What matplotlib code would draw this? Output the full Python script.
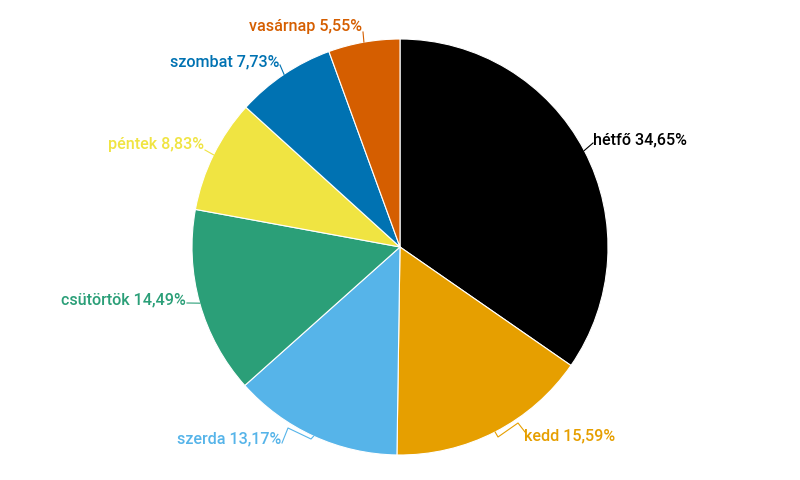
import matplotlib
matplotlib.use("Agg")
import matplotlib.pyplot as plt
import numpy as np

DAYS = ["hétfő", "kedd", "szerda", "csütörtök", "péntek", "szombat", "vasárnap"]
SHARES = [34.65, 15.59, 13.17, 14.49, 8.83, 7.73, 5.55]
COLORS = ["#000000", "#E69F00", "#56B4E9", "#2B9F78", "#F0E442", "#0072B2", "#D55E00"]

# label layout in pixel coords (x, y, ha) and connector path near the text
LABEL_POS = [(593, 140, "left"), (524, 436, "left"), (281, 439, "right"),
             (186, 300, "right"), (204, 145, "right"), (279, 62, "right"),
             (362, 26, "right")]
LINE_PATH = [[(593, 143)], [(498, 437), (518, 423), (525, 432)],
             [(311, 439), (288, 428), (282, 443)], [(187, 303)], [(205, 150)],
             [(280, 65)], [(363, 32)]]

W, H = 800, 480
CX, CY, R = 400, 247, 208

plt.rcParams["font.family"] = ["Roboto", "DejaVu Sans"]

fig = plt.figure(figsize=(8, 4.8), dpi=100)
ax = fig.add_axes([0, 0, 1, 1])
ax.set_xlim(0, W)
ax.set_ylim(0, H)
ax.set_aspect("equal")
ax.axis("off")

ax.pie(SHARES, colors=COLORS, startangle=90, counterclock=False,
       center=(CX, H - CY), radius=R,
       wedgeprops=dict(edgecolor="white", linewidth=0.8))
ax.set_xlim(0, W)
ax.set_ylim(0, H)

total = sum(SHARES)
cum = 0.0
for day, share, color, (lx, ly, ha), path in zip(DAYS, SHARES, COLORS, LABEL_POS, LINE_PATH):
    mid = (cum + share / 2) / total * 360
    cum += share
    px = CX + R * np.sin(np.radians(mid))
    py = CY - R * np.cos(np.radians(mid))
    xs = [px] + [p[0] for p in path]
    ys = [H - py] + [H - p[1] for p in path]
    ax.plot(xs, ys, color=color, linewidth=0.8)
    label = f"{day} {share:.2f}%".replace(".", ",")
    ax.text(lx, H - ly, label, ha=ha, va="center", fontsize=11.6,
            fontweight="medium", color=color)

fig.savefig("out.png", dpi=100, facecolor="white")
